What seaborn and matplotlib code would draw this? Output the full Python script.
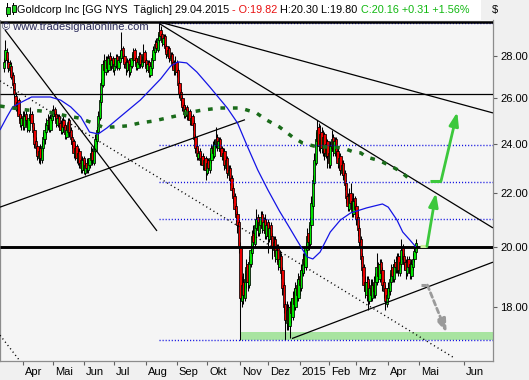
import numpy as np
import pandas as pd
import matplotlib
matplotlib.use('Agg')
import matplotlib.pyplot as plt
import matplotlib.transforms as mtransforms
from matplotlib.patches import Rectangle
from matplotlib.ticker import FixedLocator, NullLocator
import seaborn as sns

# ---------------- data (Goldcorp GG, daily, 13.03.2014 - 29.04.2015) ----------------
opens = [27.4, 27.8, 28.2, 27.7, 27.3, 27.5, 27.1, 26.7, 26.1, 25.5, 25.9, 25.3, 24.8, 25.2, 24.7, 25.3, 25.0, 24.6, 25.0, 25.3,
         24.9, 24.6, 24.1, 23.9, 23.4, 23.8, 23.3, 23.8, 24.2, 24.5, 24.8, 25.1, 24.6, 25.0, 25.2, 25.5, 25.3, 24.8, 25.2, 24.9,
         24.5, 25.0, 24.8, 24.3, 24.5, 25.0, 24.6, 24.3, 24.1, 23.5, 23.9, 23.3, 23.7, 23.3, 22.9, 23.4, 22.8, 23.2, 22.9, 23.1,
         23.3, 23.7, 23.2, 23.7, 24.1, 24.5, 25.1, 25.8, 26.6, 27.7, 27.2, 27.9, 27.3, 28.0, 27.5, 27.9, 27.3, 27.5, 28.0, 27.4,
         27.7, 27.9, 28.4, 28.0, 27.7, 27.3, 27.8, 27.2, 27.5, 27.8, 28.3, 27.9, 27.4, 27.6, 28.1, 27.5, 27.7, 28.2, 27.8, 27.3,
         27.7, 27.1, 27.4, 27.8, 28.2, 28.7, 28.3, 28.8, 29.3, 29.1, 28.6, 29.0, 28.5, 28.0, 28.4, 27.8, 28.1, 27.7, 27.2, 27.7,
         27.3, 26.7, 26.3, 26.0, 25.7, 25.2, 25.6, 25.1, 25.4, 24.9, 25.2, 24.9, 24.3, 23.9, 23.4, 23.7, 23.2, 23.5, 23.0, 23.4,
         22.8, 23.3, 22.9, 23.3, 23.9, 23.5, 23.9, 24.3, 23.8, 24.2, 23.8, 23.4, 23.7, 23.0, 23.4, 22.7, 23.0, 22.6, 22.2, 21.9,
         21.5, 21.2, 20.9, 20.0, 18.2, 18.8, 18.3, 18.8, 19.4, 18.7, 19.4, 19.8, 20.5, 20.1, 20.7, 21.1, 20.5, 20.8, 21.2, 20.6,
         21.0, 20.4, 20.9, 20.3, 20.8, 20.4, 19.9, 20.3, 19.6, 20.0, 19.3, 19.7, 19.2, 18.7, 18.1, 17.5, 18.0, 17.4, 18.1, 17.7,
         18.4, 18.0, 18.7, 18.3, 19.0, 18.6, 19.1, 19.7, 19.3, 19.9, 20.5, 20.1, 20.8, 21.5, 22.4, 23.2, 24.1, 24.7, 23.8, 24.5,
         23.7, 24.4, 23.5, 24.1, 23.6, 23.1, 23.8, 24.3, 23.6, 24.2, 23.7, 23.1, 23.5, 22.8, 23.2, 22.8, 22.4, 21.9, 21.4, 22.0,
         21.7, 21.2, 21.8, 21.5, 21.1, 20.7, 20.3, 19.7, 19.3, 18.8, 18.4, 18.9, 18.2, 18.7, 18.3, 18.8, 18.4, 18.8, 19.4, 18.9,
         19.5, 19.2, 18.8, 18.6, 18.1, 18.3, 18.5, 18.8, 19.3, 18.9, 19.5, 19.2, 19.7, 19.1, 19.4, 20.0, 19.7, 19.5, 19.1, 19.6,
         19.4, 19.0, 19.3, 19.6, 19.82]
highs = [27.9, 28.8, 28.4, 27.9, 27.8, 27.7, 27.2, 26.9, 26.3, 26.0, 26.0, 25.4, 25.3, 25.4, 25.4, 25.5, 25.1, 25.3, 25.6, 25.4,
         25.0, 24.7, 24.3, 24.0, 23.9, 24.0, 24.1, 24.5, 24.8, 25.1, 25.3, 25.2, 25.3, 25.5, 25.7, 25.6, 25.4, 25.3, 25.3, 25.0,
         25.1, 25.2, 24.9, 24.8, 25.1, 25.1, 24.7, 24.4, 24.2, 24.0, 24.0, 23.8, 23.8, 23.4, 23.5, 23.5, 23.3, 23.4, 23.4, 23.6,
         23.9, 23.8, 24.0, 24.4, 24.8, 25.4, 26.1, 26.9, 27.8, 28.1, 28.0, 28.0, 28.1, 28.2, 28.0, 28.0, 27.8, 28.1, 28.1, 28.0,
         28.3, 29.2, 28.5, 28.1, 27.8, 27.9, 27.9, 27.8, 28.1, 28.4, 28.4, 28.0, 27.9, 28.2, 28.2, 28.0, 28.6, 28.3, 27.9, 27.8,
         27.8, 27.7, 28.1, 28.5, 28.8, 28.9, 29.1, 29.7, 29.5, 29.2, 29.1, 29.1, 28.6, 28.5, 28.5, 28.2, 28.2, 27.8, 28.0, 27.8,
         27.4, 26.8, 26.4, 26.1, 25.8, 25.7, 25.7, 25.5, 25.5, 25.3, 25.3, 25.0, 24.4, 24.0, 23.8, 23.8, 23.6, 23.6, 23.5, 23.5,
         23.4, 23.4, 23.6, 24.0, 24.1, 24.2, 24.7, 24.4, 24.3, 24.3, 23.9, 23.8, 23.8, 23.5, 23.5, 23.1, 23.1, 22.7, 22.3, 22.0,
         21.6, 21.3, 21.0, 20.2, 19.0, 19.1, 19.2, 19.6, 19.5, 19.7, 20.1, 20.6, 20.8, 21.0, 21.4, 21.2, 21.1, 21.3, 21.3, 21.1,
         21.2, 21.0, 21.0, 20.9, 20.9, 20.5, 20.4, 20.4, 20.1, 20.1, 19.9, 19.8, 19.3, 18.8, 18.2, 18.2, 18.1, 18.2, 18.3, 18.5,
         18.6, 18.8, 18.9, 19.1, 19.2, 19.4, 19.8, 19.9, 20.2, 20.7, 20.8, 21.1, 21.9, 22.7, 23.6, 24.5, 25.0, 24.9, 24.8, 24.7,
         24.6, 24.5, 24.3, 24.2, 23.8, 24.1, 24.6, 24.4, 24.3, 24.3, 23.8, 23.6, 23.6, 23.3, 23.3, 22.9, 22.5, 22.0, 22.2, 22.4,
         21.8, 22.0, 21.9, 21.6, 21.2, 20.8, 20.4, 19.8, 19.4, 19.0, 19.0, 19.0, 18.8, 18.9, 18.9, 19.0, 19.1, 19.8, 19.5, 19.6,
         19.6, 19.3, 18.9, 18.7, 18.6, 18.8, 19.1, 19.4, 19.4, 19.6, 19.7, 19.8, 19.8, 19.7, 20.3, 20.1, 19.8, 19.6, 19.7, 19.7,
         19.5, 19.6, 19.8, 20.0, 20.30]
lows = [27.2, 27.7, 27.6, 27.2, 27.1, 26.9, 26.4, 26.0, 25.4, 25.3, 25.0, 24.7, 24.6, 24.6, 24.6, 24.8, 24.5, 24.5, 24.9, 24.7,
        24.3, 23.8, 23.6, 23.3, 23.2, 23.15, 23.2, 23.7, 24.0, 24.4, 24.6, 24.5, 24.5, 24.9, 25.0, 25.0, 24.7, 24.7, 24.6, 24.4,
        24.4, 24.5, 24.2, 24.2, 24.4, 24.3, 24.0, 23.8, 23.4, 23.3, 23.2, 23.1, 23.0, 22.8, 22.8, 22.75, 22.7, 22.8, 22.8, 23.0,
        23.2, 23.1, 23.1, 23.6, 24.0, 24.4, 25.0, 25.7, 26.5, 27.1, 27.1, 27.2, 27.2, 27.4, 27.3, 27.2, 27.1, 27.4, 27.3, 27.3,
        27.6, 27.8, 27.7, 27.4, 27.1, 27.2, 27.0, 27.1, 27.4, 27.7, 27.6, 27.3, 27.3, 27.5, 27.4, 27.4, 27.6, 27.5, 27.2, 27.2,
        27.0, 27.0, 27.3, 27.7, 28.1, 28.2, 28.2, 28.7, 28.8, 28.5, 28.5, 28.2, 27.9, 27.9, 27.7, 27.7, 27.4, 27.1, 27.1, 27.0,
        26.4, 26.0, 25.7, 25.4, 25.1, 25.1, 25.0, 25.0, 24.8, 24.8, 24.6, 24.1, 23.6, 23.3, 23.3, 23.1, 23.1, 22.9, 22.9, 22.5,
        22.7, 22.8, 22.8, 23.2, 23.4, 23.4, 23.8, 23.7, 23.7, 23.5, 23.3, 23.3, 22.9, 22.9, 22.6, 22.5, 22.3, 21.9, 21.6, 21.2,
        20.9, 20.5, 19.8, 17.0, 18.0, 18.1, 18.2, 18.6, 18.5, 18.6, 19.3, 19.7, 20.0, 20.0, 20.6, 20.4, 20.4, 20.7, 20.5, 20.5,
        20.3, 20.3, 19.8, 20.2, 20.1, 19.6, 19.8, 19.5, 19.5, 19.2, 19.2, 18.9, 18.4, 17.8, 17.0, 17.3, 17.3, 17.05, 17.5, 17.6,
        17.9, 17.9, 18.2, 18.2, 18.4, 18.5, 19.0, 19.1, 19.2, 19.8, 19.9, 20.0, 20.7, 21.4, 22.3, 23.1, 24.0, 23.7, 23.6, 23.6,
        23.5, 23.3, 23.4, 23.0, 23.0, 23.0, 23.7, 23.5, 23.5, 23.4, 23.0, 22.9, 22.7, 22.7, 22.5, 22.1, 21.6, 21.3, 21.3, 21.4,
        21.1, 21.1, 21.2, 20.8, 20.4, 20.0, 19.4, 19.0, 18.5, 18.3, 18.2, 17.9, 18.1, 18.2, 18.2, 18.3, 18.3, 18.7, 18.8, 18.8,
        18.9, 18.5, 18.3, 17.9, 18.0, 18.2, 18.4, 18.7, 18.8, 18.8, 19.1, 19.1, 19.0, 19.0, 19.3, 19.4, 19.2, 18.9, 19.0, 19.1,
        18.9, 18.9, 19.2, 19.5, 19.80]
closes = [27.7, 28.3, 27.8, 27.4, 27.6, 27.0, 26.6, 26.2, 25.6, 25.8, 25.2, 24.9, 25.1, 24.8, 25.2, 25.0, 24.7, 25.1, 25.3, 24.9,
          24.5, 24.0, 23.8, 23.5, 23.7, 23.4, 23.9, 24.3, 24.6, 24.9, 25.0, 24.7, 25.1, 25.3, 25.4, 25.2, 24.9, 25.1, 24.8, 24.6,
          24.9, 24.7, 24.4, 24.6, 24.9, 24.5, 24.2, 24.0, 23.6, 23.8, 23.4, 23.6, 23.2, 23.0, 23.3, 22.9, 23.1, 23.0, 23.2, 23.4,
          23.6, 23.3, 23.8, 24.2, 24.6, 25.2, 25.9, 26.7, 27.6, 27.3, 27.8, 27.4, 27.9, 27.6, 27.8, 27.4, 27.6, 27.9, 27.5, 27.8,
          28.0, 28.3, 27.9, 27.6, 27.4, 27.7, 27.3, 27.6, 27.9, 28.2, 27.8, 27.5, 27.7, 28.0, 27.6, 27.8, 28.1, 27.7, 27.4, 27.6,
          27.2, 27.5, 27.9, 28.3, 28.6, 28.4, 28.9, 29.2, 29.0, 28.7, 28.9, 28.4, 28.1, 28.3, 27.9, 28.0, 27.6, 27.3, 27.6, 27.2,
          26.6, 26.2, 25.9, 25.6, 25.3, 25.5, 25.2, 25.3, 25.0, 25.1, 24.8, 24.2, 23.8, 23.5, 23.6, 23.3, 23.4, 23.1, 23.3, 22.9,
          23.2, 23.0, 23.4, 23.8, 23.6, 24.0, 24.2, 23.9, 24.1, 23.7, 23.5, 23.6, 23.1, 23.3, 22.8, 22.9, 22.5, 22.1, 21.8, 21.4,
          21.1, 20.8, 20.0, 18.3, 18.7, 18.4, 18.9, 19.3, 18.8, 19.5, 19.9, 20.4, 20.2, 20.8, 21.0, 20.6, 20.9, 21.1, 20.7, 20.9,
          20.5, 20.8, 20.4, 20.7, 20.3, 20.0, 20.2, 19.7, 19.9, 19.4, 19.6, 19.1, 18.6, 18.0, 17.6, 17.9, 17.5, 18.0, 17.8, 18.3,
          18.1, 18.6, 18.4, 18.9, 18.7, 19.2, 19.6, 19.4, 20.0, 20.4, 20.2, 20.9, 21.6, 22.5, 23.3, 24.2, 24.6, 23.9, 24.4, 23.8,
          24.3, 23.6, 24.0, 23.5, 23.2, 23.9, 24.2, 23.7, 24.1, 23.6, 23.2, 23.4, 22.9, 23.1, 22.7, 22.3, 21.8, 21.5, 21.9, 21.6,
          21.3, 21.7, 21.4, 21.0, 20.6, 20.2, 19.6, 19.2, 18.7, 18.5, 18.8, 18.3, 18.6, 18.4, 18.7, 18.5, 18.9, 19.3, 19.0, 19.4,
          19.1, 18.7, 18.5, 18.2, 18.4, 18.6, 18.9, 19.2, 19.0, 19.4, 19.3, 19.6, 19.2, 19.5, 19.9, 19.6, 19.4, 19.2, 19.5, 19.3,
          19.1, 19.4, 19.6, 19.85, 20.16]

# moving averages (bar index, value)
ma50_idx = [-2.8, 2, 6, 11, 19, 32, 39, 46, 53, 59, 65, 71, 80, 94, 108, 115, 120, 126, 133, 142, 154, 161, 168, 175,
            182, 190, 197, 202, 209, 213, 218, 225, 232, 239, 250, 261, 265, 271, 275, 280, 284]
ma50_val = [24.58, 25.15, 25.60, 25.78, 26.05, 26.05, 25.91, 25.60, 25.15, 24.49, 24.41, 24.67, 25.15, 25.91, 26.89,
            27.51, 27.71, 27.66, 27.22, 26.51, 25.55, 24.89, 23.86, 22.91, 22.12, 21.31, 20.69, 20.25, 19.66, 19.59,
            19.83, 20.54, 20.98, 21.24, 21.43, 21.58, 21.46, 20.98, 20.54, 20.25, 20.01]
ma200_idx = [-2.8, 6, 16, 25, 34, 43, 52, 61, 68, 75, 85, 94, 103, 112, 119, 126, 137, 149, 163, 174, 181, 190, 199,
             206, 216, 227, 234, 241, 246, 250, 257, 261, 268, 273, 278, 282]
ma200_val = [25.64, 25.55, 25.46, 25.42, 25.33, 25.20, 25.10, 24.89, 24.71, 24.71, 24.76, 24.89, 24.97, 25.10, 25.20,
             25.33, 25.46, 25.55, 25.55, 25.33, 25.02, 24.71, 24.28, 24.02, 23.86, 23.86, 23.81, 23.65, 23.61, 23.44,
             23.32, 23.23, 23.03, 22.87, 22.63, 22.43]

# horizontal levels
black_levels = [29.70, 26.20, 20.00]
black_widths = [1.8, 0.9, 2.1]
blue_levels = [29.66, 23.95, 22.45, 21.02, 17.00]
blue_start_bar = 107
zone_start_bar = 163
zone_low, zone_high = 17.0, 17.22

# trend lines: (x0, y0, x1, y1) in bar index / price
trend_solid = [(0.7, 29.31, 105.5, 20.58),
               (-2.76, 21.46, 166.2, 25.03),
               (107.6, 29.72, 337.2, 25.33),
               (107.6, 29.62, 337.2, 20.69),
               (198.6, 17.03, 337.2, 19.48)]
trend_dotted = [(-2.76, 26.80, 309.7, 16.48),
                (-2.76, 17.13, 11.0, 16.37)]

# projection arrows: polyline points (bar index, price); last point is the arrow tip
arrowA_x = [286.9, 291.7, 297.9]
arrowA_y = [20.03, 20.03, 22.00]
arrowB_x = [293.8, 301.4, 312.6]
arrowB_y = [22.47, 22.47, 25.37]
arrowG_x = [287.6, 292.0, 305.3]
arrowG_y = [18.71, 18.71, 17.20]

month_labels = ['Apr', 'Mai', 'Jun', 'Jul', 'Aug', 'Sep', 'Okt', 'Nov', 'Dez', '2015', 'Feb', 'Mrz', 'Apr', 'Mai', 'Jun']
y_ticks = [18, 20, 22, 24, 26, 28]
y_labels = ['18.00', '20.00', '22.00', '24.00', '26.00', '28.00']

header_parts = [("Goldcorp Inc [GG NYS  T\u00e4glich] 29.04.2015", 'black'),
                ("- O:19.82", '#e81010'),
                ("H:20.30 L:19.80", 'black'),
                ("C:20.16 +0.31 +1.56%", '#10b810')]

# ---------------- style ----------------
sns.set_style('white')
plt.rcParams['font.family'] = ['Liberation Sans', 'DejaVu Sans']
plt.rcParams['lines.scale_dashes'] = False
plt.rcParams['lines.solid_capstyle'] = 'butt'

W, H = 529, 380
fig = plt.figure(figsize=(W / 100, H / 100), dpi=100)
fig.patch.set_facecolor('#f0f0f0')
fig.patches.append(Rectangle((0, 1 - 20 / H), 481 / W, 20 / H, transform=fig.transFigure,
                             facecolor='white', edgecolor='none', zorder=0))

ax = fig.add_axes([0, 19 / H, 493 / W, 341 / H])
ax.set_facecolor('#f5f5f5')
ax.set_yscale('log')

n = min(len(opens), len(highs), len(lows), len(closes))
o = np.array(opens[:n]); h = np.array(highs[:n]); l = np.array(lows[:n]); c = np.array(closes[:n])
idx = np.arange(n)

holidays = ['2014-04-18', '2014-05-26', '2014-07-04', '2014-09-01', '2014-11-27', '2014-12-25',
            '2015-01-01', '2015-01-19', '2015-02-16', '2015-04-03']
dates = pd.bdate_range(end='2015-04-29', periods=n, freq='C', holidays=holidays)

XL, XR = -4 / 1.45, 489 / 1.45
ax.set_xlim(XL, XR)
ax.set_ylim(16.37, 29.83)

# green support zone
ax.fill_between([zone_start_bar, XR], zone_low, zone_high, color='#a8e4a0', lw=0, zorder=1)

# candles
ax.vlines(idx, l, h, colors='black', linewidth=0.75, zorder=3)
up = c >= o
body_lo = np.minimum(o, c)
body_h = np.maximum(np.abs(c - o), 0.03)
ax.bar(idx, body_h, bottom=body_lo, width=1.6, color=np.where(up, '#00e400', '#ec0000'),
       edgecolor='black', linewidth=0.55, zorder=4)

# horizontal lines
for lv, lw in zip(black_levels, black_widths):
    ax.axhline(lv, color='black', lw=lw, zorder=6)
for lv in blue_levels:
    ax.hlines(lv, blue_start_bar, XR, colors='#1010e0', linestyles=(0, (0.8, 1.4)), lw=1.0, zorder=5)

# trend lines
for x0, y0, x1, y1 in trend_solid:
    ax.plot([x0, x1], [y0, y1], color='black', lw=0.9, zorder=6)
for x0, y0, x1, y1 in trend_dotted:
    ax.plot([x0, x1], [y0, y1], color='black', lw=1.0, ls=(0, (0.8, 2.2)), zorder=6)

# moving averages with seaborn
sns.lineplot(x=ma50_idx, y=ma50_val, ax=ax, color='#1414e6', linewidth=0.9, sort=False, zorder=7)
sns.lineplot(x=ma200_idx, y=ma200_val, ax=ax, color='#1a6b1a', linewidth=2.5, sort=False, zorder=7)
ax.lines[-1].set_dashes([3.4, 5.6])

# projection arrows
def draw_arrow(xs, ys, color, ls='-', start_color=None):
    ax.plot(xs[:-1], ys[:-1], color=start_color or color, lw=2.2, ls=ls, zorder=8)
    ax.annotate('', xy=(xs[-1], ys[-1]), xytext=(xs[-2], ys[-2]),
                arrowprops=dict(arrowstyle='-|>,head_length=0.8,head_width=0.28', color=color,
                                lw=2.0, ls=ls, mutation_scale=10, shrinkA=0, shrinkB=0), zorder=8)

draw_arrow(arrowA_x, arrowA_y, '#3cc83c', start_color='#cdeea0')
draw_arrow(arrowB_x, arrowB_y, '#3cc83c')
draw_arrow(arrowG_x, arrowG_y, '#9a9a9a', ls=(0, (3.5, 2.5)))

# axes styling
for s in ['left', 'right', 'bottom']:
    ax.spines[s].set_color('#8c8c8c')
    ax.spines[s].set_linewidth(0.9)
ax.spines['top'].set_visible(False)

ax.yaxis.tick_right()
ax.yaxis.set_major_locator(FixedLocator(y_ticks))
ax.yaxis.set_minor_locator(NullLocator())
ax.set_yticklabels(y_labels)
ax.tick_params(axis='y', which='major', right=True, left=False, length=3, width=0.8, pad=2,
               labelsize=8, colors='#606060', labelcolor='black')

months = pd.date_range('2014-04-01', '2015-06-01', freq='MS')
tick_pos = []
for m in months:
    if m <= dates[-1]:
        tick_pos.append(int(np.searchsorted(dates.values, np.datetime64(m))))
    else:
        tick_pos.append((n - 1) + (m - dates[-1]).days)
ax.set_xticks(tick_pos)
ax.xaxis.set_minor_locator(NullLocator())
ax.tick_params(axis='x', which='major', bottom=True, length=3, width=0.8, colors='#606060', labelbottom=False)
trans = mtransforms.offset_copy(mtransforms.blended_transform_factory(ax.transData, ax.transAxes),
                                fig=fig, x=2, y=-11, units='dots')
for p, lab in zip(tick_pos, month_labels):
    ax.text(p, 0, lab, transform=trans, ha='left', va='center', fontsize=8, color='black', clip_on=False)

# watermark
fig.text(2 / W, 1 - 27 / H, '\u00a9 www.tradesignalonline.com', fontsize=8, color='#2b2b5a',
         ha='left', va='center', zorder=10)

# header icon
ident = mtransforms.IdentityTransform()
for (wx, wy0, wy1, bx, by0, by1) in [(7.5, 3, 17, 5.5, 7, 14), (13.5, 3, 15, 11.5, 5, 12)]:
    fig.patches.append(Rectangle((wx - 0.5, H - wy1), 1, wy1 - wy0, transform=ident,
                                 facecolor='black', edgecolor='none', zorder=2))
    fig.patches.append(Rectangle((bx, H - by1), 4, by1 - by0, transform=ident,
                                 facecolor='#20d020', edgecolor='black', lw=0.6, zorder=3))

# header text (colored segments)
renderer = fig.canvas.get_renderer()
xpos = 17.0
for txt, col in header_parts:
    t = fig.text(xpos / W, 1 - 10 / H, txt, fontsize=7.85, color=col, ha='left', va='center', zorder=10)
    bb = t.get_window_extent(renderer=renderer)
    xpos = bb.x1 + 3.0
fig.text(492 / W, 1 - 10 / H, '$', fontsize=8, color='black', ha='left', va='center')

fig.savefig('out.png', dpi=100, facecolor=fig.get_facecolor())
